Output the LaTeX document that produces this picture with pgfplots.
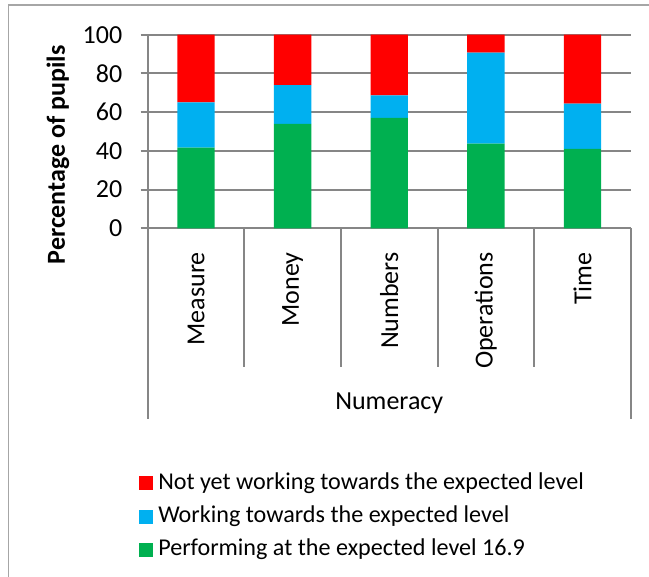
\documentclass[border=0pt]{standalone}
\usepackage{fontspec}
\setmainfont{Carlito}
\usepackage{pgfplots}
\pgfplotsset{compat=1.18}
\definecolor{cRed}{HTML}{FF0000}
\definecolor{cBlue}{HTML}{00B0F0}
\definecolor{cGreen}{HTML}{00B050}
\definecolor{cGrid}{HTML}{868686}
\definecolor{cFrame}{HTML}{A6A6A6}
\newcommand\cf{\fontsize{19.5}{23.4}\selectfont}
\newcommand\lf{\fontsize{18.1}{21.7}\selectfont}
\begin{document}
\begin{tikzpicture}
\useasboundingbox (0,0) rectangle (486.75pt,432.75pt);
\draw[cFrame, line width=1.2pt] (6.5pt,0pt) -- (6.5pt,429pt) -- (486.75pt,429pt);
\begin{axis}[
 at={(110.8pt,261.5pt)}, anchor=south west,
 width=362.25pt, height=145.2pt, scale only axis,
 ybar stacked, bar width=28pt,
 xmin=-0.5, xmax=4.5, ymin=0, ymax=100,
 xtick={0,...,4}, xticklabels={Measure,Money,Numbers,Operations,Time},
 ytick={0,20,...,100},
 axis x line*=bottom, axis y line*=left,
 axis line style={cGrid, line width=1.5pt},
 ymajorgrids, grid style={cGrid, line width=1.5pt},
 major tick length=5.3pt, tick align=outside,
 xtick style={draw=none},
 ytick style={cGrid, line width=1.5pt},
 tick label style={font=\cf},
 /pgf/number format/assume math mode=true,
 xticklabel style={rotate=90, anchor=east, inner sep=0pt, xshift=-12.5pt},
 yticklabel style={anchor=east, inner sep=0pt, xshift=-13.6pt},
 ylabel={\bfseries Percentage of pupils},
 ylabel style={font=\cf, at={(axis description cs:-0.1858,0.379)}, anchor=center, rotate=0},
 clip=false,
 reverse legend,
 legend cell align=left,
 legend image code/.code={\fill[#1] (0pt,-5.25pt) rectangle (10.5pt,5.25pt);},
 legend style={draw=none, font=\lf, at={(-0.0181,-1.25)}, anchor=north west,
   inner sep=0pt, row sep=6pt, column sep=3.75pt,
   nodes={inner sep=0pt, text height=14pt, text depth=5pt}},
]
\addplot[fill=cGreen, draw=none] coordinates {(0,41.7) (1,53.9) (2,57.1) (3,43.7) (4,41.1)};
\addlegendentry{Performing at the expected level 16.9}
\addplot[fill=cBlue, draw=none] coordinates {(0,23.4) (1,20.1) (2,11.6) (3,47.0) (4,23.3)};
\addlegendentry{Working towards the expected level}
\addplot[fill=cRed, draw=none] coordinates {(0,34.9) (1,26.0) (2,31.3) (3,9.3) (4,35.6)};
\addlegendentry{Not yet working towards the expected level}
\foreach \xx in {0.5,1.5,2.5,3.5} {
  \edef\tmp{\noexpand\draw[cGrid, line width=1.5pt] (axis cs:\xx,0) -- ++(0pt,-104pt);}\tmp
}
\draw[cGrid, line width=1.5pt] (axis cs:-0.5,0) -- ++(0pt,-143pt);
\draw[cGrid, line width=1.5pt] (axis cs:4.5,0) -- ++(0pt,-143pt);
\node[font=\cf] at (axis cs:2,0) [yshift=-131pt] {Numeracy};
\end{axis}
\end{tikzpicture}
\end{document}
